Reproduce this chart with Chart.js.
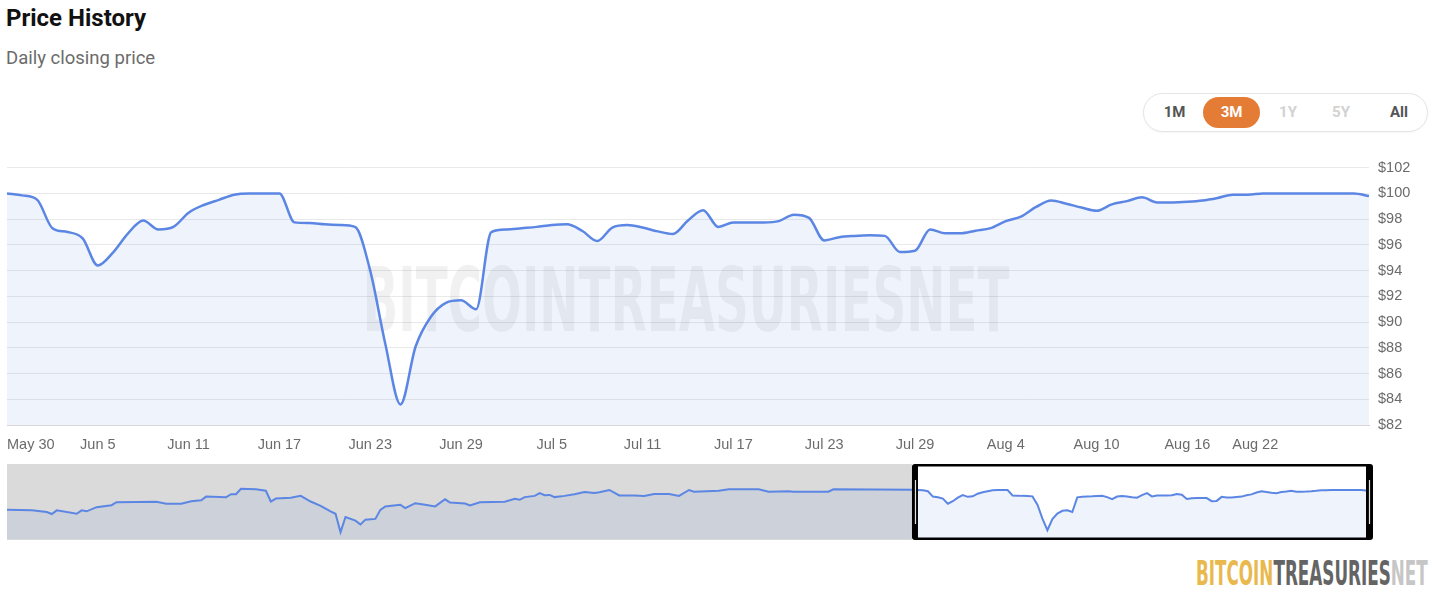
<!DOCTYPE html>
<html>
<head>
<meta charset="utf-8">
<title>Price History</title>
<script src="https://cdn.jsdelivr.net/npm/chart.js@4"></script>
<style>
  html, body { margin: 0; padding: 0; background: #fff; }
  body { width: 1447px; height: 592px; position: relative; overflow: hidden; font-family: Roboto, 'Noto Sans', sans-serif; }
  .title { position: absolute; left: 6px; top: 6px; font-size: 24px; line-height: 24px; font-weight: 700; color: #111; }
  .subtitle { position: absolute; left: 6px; top: 49px; font-size: 18.5px; line-height: 19px; color: #6b6b6b; }
  .range { position: absolute; left: 1143px; top: 93px; width: 283px; height: 37px; border: 1px solid #e4e4e4; border-radius: 20px; box-shadow: 0 1px 2px rgba(0,0,0,0.04); }
  .range span { position: absolute; top: 3px; height: 31px; line-height: 31px; text-align: center; font-size: 15px; font-weight: 700; border-radius: 16px; }
  .range .on { background: #e47c36; color: #fff; }
  .range .dim { color: #d2d2d2; }
  .range .norm { color: #555; }
  #mainWrap { position: absolute; left: 0; top: 150px; width: 1447px; height: 305px; }
  #navWrap { position: absolute; left: 0; top: 462px; width: 1380px; height: 80px; }
  .logo { position: absolute; left: 1196px; top: 557px; font-family: 'Liberation Sans Narrow', 'DejaVu Sans Condensed', sans-serif; font-size: 33px; line-height: 33px; font-weight: 700; white-space: nowrap; transform-origin: 0 0; }
  .logo .a { color: #e9b94e; }
  .logo .b { color: #646464; }
  .logo .c { color: #c6c6c6; }
</style>
</head>
<body>
<div class="title">Price History</div>
<div class="subtitle">Daily closing price</div>
<div class="range">
  <span class="norm" style="left:10px;width:41px">1M</span>
  <span class="on" style="left:59px;width:57px">3M</span>
  <span class="dim" style="left:126px;width:36px">1Y</span>
  <span class="dim" style="left:179px;width:36px">5Y</span>
  <span class="norm" style="left:236px;width:38px">All</span>
</div>
<div id="mainWrap"><canvas id="priceChart"></canvas></div>
<div id="navWrap"><canvas id="navChart"></canvas></div>
<div class="logo" id="logo"><span class="a">BITCOIN</span><span class="b">TREASURIES</span><span class="c">NET</span></div>

<script>
// daily closing prices, May 30 -> Aug 28
const prices = [
  100.0, 99.85, 99.5, 97.3, 97.0, 96.5, 94.4, 95.4, 96.9, 97.9,
  97.2, 97.4, 98.5, 99.1, 99.5, 99.9, 100.0, 100.0, 100.0, 97.75,
  97.7, 97.6, 97.55, 97.4, 94.0, 88.3, 83.6, 88.1, 90.4, 91.5,
  91.7, 91.0, 97.0, 97.2, 97.3, 97.4, 97.55, 97.6, 97.1, 96.3,
  97.35, 97.55, 97.35, 97.05, 96.85, 97.9, 98.7, 97.4, 97.75, 97.75,
  97.75, 97.85, 98.35, 98.1, 96.35, 96.6, 96.7, 96.75, 96.7, 95.45,
  95.55, 97.2, 96.9, 96.9, 97.1, 97.3, 97.85, 98.2, 98.95, 99.45,
  99.2, 98.9, 98.65, 99.15, 99.4, 99.7, 99.3, 99.3, 99.35, 99.45,
  99.65, 99.9, 99.9, 100.0, 100.0, 100.0, 100.0, 100.0, 100.0, 100.0,
  99.8
];

// x-axis labels that are shown
const tickLabels = [
  'May 30', 'Jun 5', 'Jun 11', 'Jun 17', 'Jun 23', 'Jun 29', 'Jul 5', 'Jul 11',
  'Jul 17', 'Jul 23', 'Jul 29', 'Aug 4', 'Aug 10', 'Aug 16', 'Aug 22'
];

// older history for the navigator (days before May 30)
const navHistDays = [
  -183, -178, -175, -174, -173, -169, -168, -167, -165, -162,
  -161, -153, -151, -148, -146, -144, -143, -139, -138, -137,
  -136, -133, -131, -130, -129, -126, -124, -122, -120, -118,
  -117, -116, -115, -113, -112, -111, -109, -108, -107, -104,
  -103, -101, -99, -97, -95, -94, -91, -90, -88, -83,
  -81, -80, -79, -77, -76, -75, -74, -73, -71, -69,
  -67, -65, -64, -62, -60, -57, -55, -53, -50, -48,
  -46, -45, -40, -38, -32, -30, -26, -25, -18, -17,
  -1
];
const navHistPrices = [
  91.9, 91.7, 91.0, 90.2, 91.7, 90.3, 91.7, 91.3, 93.0, 93.8,
  95.0, 95.2, 94.4, 94.4, 95.4, 95.8, 97.3, 97.0, 98.3, 98.3,
  100.5, 100.3, 99.7, 95.3, 96.5, 96.8, 97.6, 95.3, 93.5, 91.3,
  90.3, 82.8, 89.0, 87.5, 85.9, 87.9, 88.2, 91.9, 93.3, 94.0,
  92.6, 94.6, 94.0, 93.3, 96.2, 94.9, 94.5, 93.7, 95.0, 95.2,
  96.4, 96.0, 97.1, 97.6, 98.7, 97.9, 98.0, 97.1, 97.6, 98.3,
  99.2, 98.8, 99.1, 100.0, 97.8, 97.8, 97.6, 98.4, 98.4, 97.6,
  100.0, 99.3, 99.7, 100.3, 100.3, 99.3, 99.5, 99.3, 99.3, 100.3,
  100.1
];

const months = ['Jan', 'Feb', 'Mar', 'Apr', 'May', 'Jun', 'Jul', 'Aug', 'Sep', 'Oct', 'Nov', 'Dec'];
const startDate = Date.UTC(2025, 4, 30);
const yTicks = { min: 82, max: 102, step: 2 };

const lineColor = 'rgb(92, 134, 228)';
const areaColor = 'rgba(92, 134, 228, 0.1)';

const dates = prices.map((_, i) => {
  const d = new Date(startDate + i * 86400000);
  return months[d.getUTCMonth()] + ' ' + d.getUTCDate();
});

// faint site name behind the line
const watermark = {
  id: 'watermark',
  beforeDatasetsDraw(chart) {
    const { ctx, chartArea } = chart;
    const text = 'BITCOINTREASURIESNET';
    ctx.save();
    ctx.font = 'bold 89px "Liberation Sans Narrow", "DejaVu Sans Condensed", sans-serif';
    const w = ctx.measureText(text).width;
    const cx = (chartArea.left + chartArea.right) / 2 - 2;
    ctx.translate(cx, chartArea.top + 163);
    ctx.scale(647 / w, 1);
    ctx.fillStyle = 'rgba(0, 0, 0, 0.055)';
    ctx.textAlign = 'center';
    ctx.textBaseline = 'alphabetic';
    ctx.fillText(text, 0, 0);
    ctx.restore();
  }
};

new Chart(document.getElementById('priceChart').getContext('2d'), {
  type: 'line',
  data: {
    labels: dates,
    datasets: [{
      data: prices,
      borderColor: lineColor,
      backgroundColor: areaColor,
      borderWidth: 2.5,
      fill: 'start',
      pointRadius: 0,
      cubicInterpolationMode: 'monotone'
    }]
  },
  options: {
    responsive: true,
    maintainAspectRatio: false,
    animation: false,
    layout: { padding: { left: 7, top: 15, right: 0, bottom: 0 } },
    plugins: { legend: { display: false }, tooltip: { enabled: false } },
    scales: {
      x: {
        type: 'category',
        grid: { display: false },
        border: { display: true, color: '#d6d6d6', width: 1 },
        afterBuildTicks: (axis) => {
          axis.ticks = axis.ticks.filter(t => tickLabels.includes(dates[t.value]));
        },
        afterFit: (axis) => { axis.height = 30; },
        ticks: {
          autoSkip: false,
          maxRotation: 0,
          align: 'inner',
          padding: 3,
          color: '#6b6b6b',
          font: { family: '"Liberation Sans", Arial, sans-serif', size: 14.5 }
        }
      },
      y: {
        position: 'right',
        min: yTicks.min,
        max: yTicks.max,
        grid: { color: '#e9e9e9', drawTicks: false },
        border: { display: false },
        afterFit: (axis) => { axis.width = 78; },
        ticks: {
          stepSize: yTicks.step,
          padding: 9,
          color: '#6b6b6b',
          font: { family: '"Liberation Sans", Arial, sans-serif', size: 14.5 },
          callback: (v) => '$' + v
        }
      }
    }
  },
  plugins: [watermark]
});

// navigator: grey out the older history and frame the 3M window
const navFrame = {
  id: 'navFrame',
  beforeDatasetsDraw(chart) {
    const { ctx, chartArea, scales } = chart;
    const x0 = scales.x.getPixelForValue(0);
    ctx.save();
    ctx.fillStyle = '#dadada';
    ctx.fillRect(chartArea.left, chartArea.top - 1, x0 - 6 - chartArea.left, chartArea.bottom - chartArea.top + 2);
    ctx.restore();
  },
  afterDatasetsDraw(chart) {
    const { ctx, chartArea, scales } = chart;
    const xl = scales.x.getPixelForValue(0) - 6;
    const xr = scales.x.getPixelForValue(prices.length - 1) + 7;
    const yt = chartArea.top - 1;
    const yb = chartArea.bottom + 1;
    ctx.save();
    ctx.fillStyle = '#000';
    ctx.beginPath();
    ctx.roundRect(xl, yt, xr - xl, yb - yt, 3);
    ctx.roundRect(xl + 6, yt + 2.5, xr - xl - 13, yb - yt - 5, 0);
    ctx.fill('evenodd');
    // handles
    ctx.strokeStyle = '#e2e2e2';
    ctx.lineWidth = 1.2;
    ctx.beginPath();
    ctx.moveTo(xl + 3.5, yt + 16);
    ctx.lineTo(xl + 3.5, yb - 16);
    ctx.moveTo(xr - 3.5, yt + 16);
    ctx.lineTo(xr - 3.5, yb - 16);
    ctx.stroke();
    ctx.restore();
  }
};

const navPoints = navHistDays.map((d, k) => ({ x: d, y: navHistPrices[k] }))
  .concat(prices.map((p, i) => ({ x: i, y: p })));

new Chart(document.getElementById('navChart').getContext('2d'), {
  type: 'line',
  data: {
    datasets: [{
      data: navPoints,
      borderColor: lineColor,
      backgroundColor: areaColor,
      borderWidth: 2,
      fill: 'start',
      pointRadius: 0,
      tension: 0
    }]
  },
  options: {
    responsive: true,
    maintainAspectRatio: false,
    animation: false,
    layout: { padding: { left: 7, right: 14, top: 3, bottom: 3 } },
    plugins: { legend: { display: false }, tooltip: { enabled: false } },
    scales: {
      x: { type: 'linear', min: navHistDays[0], max: prices.length - 1, display: false },
      y: { min: 80, max: 110.2, display: false }
    }
  },
  plugins: [navFrame]
});

// squeeze the footer logo to its width
const logo = document.getElementById('logo');
logo.style.transform = 'scaleX(' + (232 / logo.scrollWidth) + ')';
</script>
</body>
</html>
